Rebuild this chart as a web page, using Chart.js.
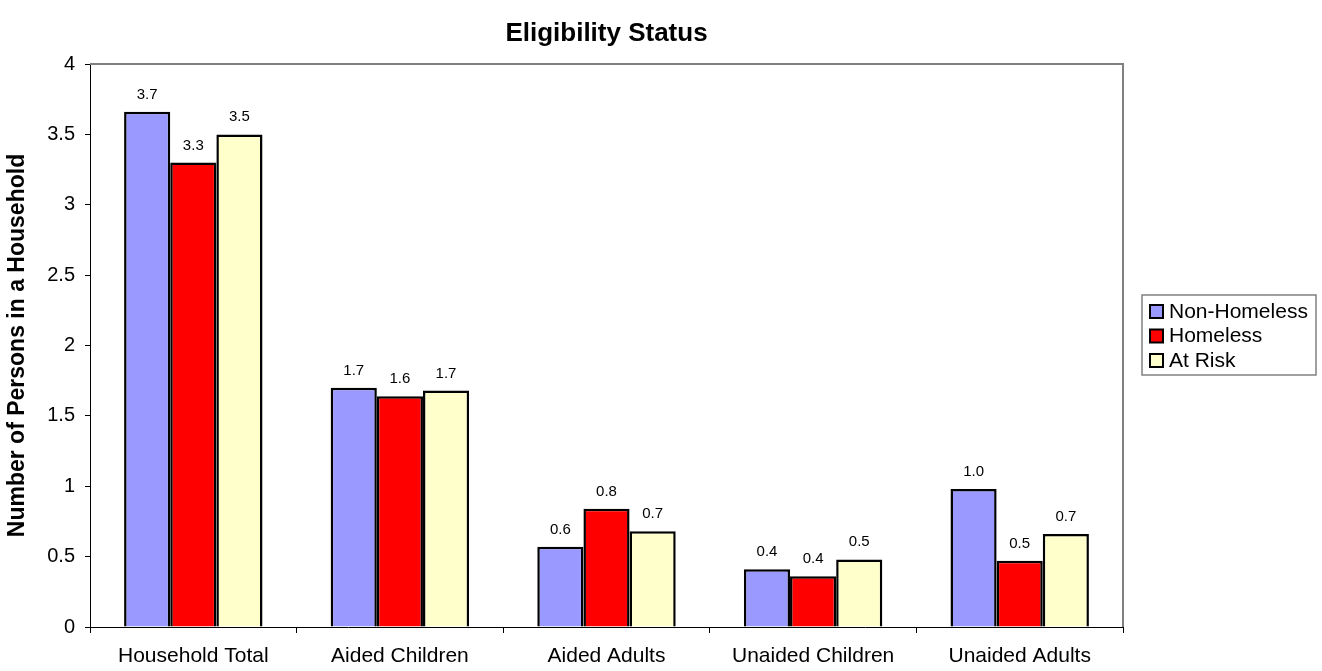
<!DOCTYPE html>
<html>
<head>
<meta charset="utf-8">
<script src="https://cdn.jsdelivr.net/npm/chart.js@4/dist/chart.umd.min.js"></script>
<style>
  html, body { margin: 0; padding: 0; background: #fff; }
  #wrap { width: 1322px; height: 671px; }
</style>
</head>
<body>
<div id="wrap"><canvas id="chart" width="1322" height="671"></canvas></div>
<script>
const categories = ['Household Total', 'Aided Children', 'Aided Adults', 'Unaided Children', 'Unaided Adults'];
const nonHomeless = [3.66, 1.70, 0.57, 0.41, 0.98];
const homeless = [3.30, 1.64, 0.84, 0.36, 0.47];
const atRisk = [3.50, 1.68, 0.68, 0.48, 0.66];
const seriesNames = ['Non-Homeless', 'Homeless', 'At Risk'];
const seriesColors = ['#9999ff', '#ff0000', '#ffffcc'];
const yTicks = [0, 0.5, 1, 1.5, 2, 2.5, 3, 3.5, 4];

const FONT = '"Liberation Sans", Arial, sans-serif';

// value labels above each bar
const valueLabels = {
    id: 'valueLabels',
    afterDatasetsDraw(chart) {
        const ctx = chart.ctx;
        ctx.save();
        ctx.font = '15px ' + FONT;
        ctx.fillStyle = '#000';
        ctx.textAlign = 'center';
        ctx.textBaseline = 'alphabetic';
        chart.data.datasets.forEach((ds, i) => {
            chart.getDatasetMeta(i).data.forEach((bar, j) => {
                ctx.fillText(ds.data[j].toFixed(1), bar.x, bar.y - 13);
            });
        });
        ctx.restore();
    }
};

// title, top/right frame and boxed legend
const frame = {
    id: 'frame',
    afterDraw(chart) {
        const ctx = chart.ctx;
        const a = chart.chartArea;
        ctx.save();
        ctx.strokeStyle = '#808080';
        ctx.lineWidth = 2;
        ctx.beginPath();
        ctx.moveTo(a.left, a.top);
        ctx.lineTo(a.right, a.top);
        ctx.lineTo(a.right, a.bottom);
        ctx.stroke();

        ctx.fillStyle = '#000';
        ctx.font = 'bold 26px ' + FONT;
        ctx.textAlign = 'center';
        ctx.textBaseline = 'alphabetic';
        ctx.fillText('Eligibility Status', (a.left + a.right) / 2, 41);

        // legend
        const lx = 1142, ly = 295, lw = 174, lh = 80;
        ctx.strokeStyle = '#808080';
        ctx.lineWidth = 1.5;
        ctx.strokeRect(lx, ly, lw, lh);
        ctx.font = '21px ' + FONT;
        ctx.textAlign = 'left';
        ctx.textBaseline = 'middle';
        seriesNames.forEach((name, i) => {
            const cy = ly + 16 + i * 24.5;
            ctx.fillStyle = seriesColors[i];
            ctx.fillRect(lx + 8, cy - 6, 13, 13);
            ctx.strokeStyle = '#000';
            ctx.lineWidth = 2;
            ctx.strokeRect(lx + 8, cy - 6, 13, 13);
            ctx.fillStyle = '#000';
            ctx.fillText(name, lx + 27, cy + 1);
        });
        ctx.restore();
    }
};

const datasets = [nonHomeless, homeless, atRisk].map((vals, i) => ({
    label: seriesNames[i],
    data: vals,
    backgroundColor: seriesColors[i],
    borderColor: '#000',
    borderWidth: 2.5,
    borderSkipped: 'bottom',
    categoryPercentage: 0.67,
    barPercentage: 1
}));

new Chart(document.getElementById('chart'), {
    type: 'bar',
    data: { labels: categories, datasets: datasets },
    plugins: [valueLabels, frame],
    options: {
        responsive: false,
        animation: false,
        layout: { padding: { top: 64, right: 199, left: 0, bottom: 0 } },
        plugins: {
            legend: { display: false },
            title: { display: false },
            tooltip: { enabled: false }
        },
        scales: {
            x: {
                afterFit: s => { s.height = 44; },
                grid: { offset: true, drawOnChartArea: false, tickLength: 6, color: '#000' },
                border: { color: '#000', width: 1 },
                ticks: { color: '#000', font: { family: FONT, size: 21 }, padding: 11, maxRotation: 0 }
            },
            y: {
                min: 0,
                max: 4,
                afterFit: s => { s.width = 90; },
                afterBuildTicks: s => { s.ticks = yTicks.map(v => ({ value: v })); },
                grid: { drawOnChartArea: false, tickLength: 5, color: '#000' },
                border: { color: '#000', width: 1 },
                ticks: { color: '#000', font: { family: FONT, size: 20 }, padding: 10, callback: v => String(v) },
                title: {
                    display: true,
                    text: 'Number of Persons in a Household',
                    color: '#000',
                    font: { family: FONT, size: 23, weight: 'bold' },
                    padding: { top: 4, bottom: 0 }
                }
            }
        }
    }
});
</script>
</body>
</html>
